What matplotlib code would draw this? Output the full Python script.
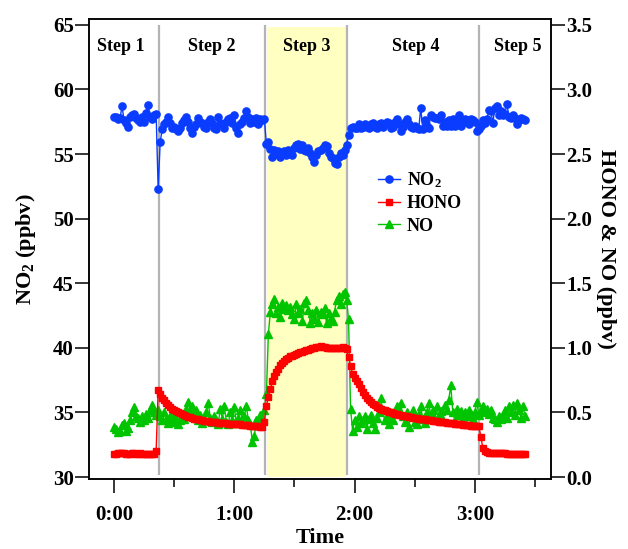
import numpy as np
import matplotlib
matplotlib.use("Agg")
import matplotlib.pyplot as plt
from matplotlib.ticker import FuncFormatter, MultipleLocator

plt.rcParams['font.family'] = ['Liberation Serif', 'DejaVu Serif']
plt.rcParams['mathtext.fontset'] = 'custom'
plt.rcParams['mathtext.rm'] = 'Liberation Serif:bold'
plt.rcParams['mathtext.it'] = 'Liberation Serif:bold'
plt.rcParams['mathtext.bf'] = 'Liberation Serif:bold'

# sampling: one point per minute from 0:00
minutes = np.arange(206)

no2 = [
    57.9, 57.9, 57.7, 57.8, 58.7, 57.6, 57.4, 57.1, 57.9, 58.0,
    58.1, 57.8, 57.6, 57.5, 57.9, 57.5, 58.2, 58.8, 57.9, 57.7,
    58.0, 58.1, 52.3, 55.9, 56.9, 57.3, 57.5, 57.9, 57.4, 57.0,
    57.1, 56.9, 56.8, 57.0, 57.4, 57.6, 57.9, 57.5, 57.0, 56.6,
    57.1, 57.3, 57.8, 57.5, 57.4, 57.1, 57.0, 57.5, 57.7, 57.4,
    57.0, 56.9, 57.9, 57.4, 57.3, 57.0, 57.5, 57.7, 57.8, 57.4,
    58.0, 57.0, 56.6, 57.3, 57.5, 57.8, 58.3, 57.9, 57.4, 57.7,
    57.5, 57.8, 57.3, 57.7, 57.6, 57.7, 55.8, 55.9, 55.4, 54.8,
    55.3, 55.0, 55.2, 54.8, 55.1, 55.2, 54.9, 55.3, 55.2, 54.9,
    55.5, 55.7, 55.8, 55.4, 55.7, 55.3, 55.2, 55.5, 55.1, 54.8,
    54.4, 54.9, 55.2, 55.3, 55.5, 55.7, 55.6, 55.1, 54.8, 54.7,
    54.3, 54.2, 54.8, 55.1, 54.9, 55.3, 55.7, 56.5, 57.0, 57.1,
    57.0, 57.0, 57.3, 57.0, 57.1, 57.3, 57.1, 57.0, 57.3, 57.4,
    57.1, 57.0, 57.3, 57.4, 57.1, 57.3, 57.5, 57.4, 57.0, 57.1,
    57.5, 57.7, 57.3, 56.8, 57.1, 57.5, 57.7, 57.3, 57.1, 57.0,
    57.2, 57.0, 56.9, 58.6, 56.9, 57.6, 57.2, 57.0, 58.0, 57.9,
    57.8, 57.8, 57.7, 58.0, 57.2, 57.5, 57.2, 57.6, 57.2, 57.7,
    57.2, 57.6, 58.0, 57.2, 57.5, 57.7, 57.6, 57.3, 57.7, 57.6,
    57.5, 56.8, 56.9, 57.2, 57.6, 57.4, 57.7, 58.4, 58.3, 57.4,
    58.6, 58.7, 58.0, 58.3, 58.0, 58.1, 58.9, 57.9, 57.8, 58.0,
    57.8, 57.3, 57.6, 57.8, 57.7, 57.6,
]

hono = [
    0.18, 0.18, 0.185, 0.19, 0.19, 0.185, 0.18, 0.18, 0.18, 0.185,
    0.185, 0.18, 0.18, 0.185, 0.18, 0.18, 0.18, 0.18, 0.18, 0.18,
    0.18, 0.20, 0.67, 0.64, 0.615, 0.595, 0.575, 0.56, 0.545, 0.53,
    0.52, 0.51, 0.50, 0.495, 0.488, 0.48, 0.473, 0.467, 0.462, 0.457,
    0.453, 0.449, 0.446, 0.443, 0.44, 0.437, 0.435, 0.433, 0.43, 0.428,
    0.426, 0.424, 0.422, 0.421, 0.42, 0.418, 0.416, 0.414, 0.413, 0.412,
    0.412, 0.41, 0.409, 0.407, 0.405, 0.404, 0.403, 0.40, 0.398, 0.397,
    0.395, 0.393, 0.392, 0.391, 0.39, 0.43, 0.55, 0.62, 0.68, 0.74,
    0.78, 0.81, 0.84, 0.865, 0.885, 0.90, 0.915, 0.925, 0.935, 0.94,
    0.945, 0.955, 0.96, 0.965, 0.97, 0.975, 0.98, 0.985, 0.99, 0.995,
    1.0, 1.005, 1.01, 1.012, 1.01, 1.005, 1.0, 0.998, 0.995, 0.995,
    0.995, 0.998, 1.0, 1.002, 1.003, 1.0, 0.99, 0.93, 0.86, 0.80,
    0.77, 0.745, 0.72, 0.69, 0.66, 0.635, 0.615, 0.595, 0.58, 0.565,
    0.555, 0.545, 0.535, 0.528, 0.522, 0.516, 0.51, 0.505, 0.50, 0.495,
    0.49, 0.486, 0.482, 0.478, 0.475, 0.472, 0.469, 0.466, 0.462, 0.46,
    0.458, 0.455, 0.453, 0.45, 0.448, 0.446, 0.444, 0.44, 0.438, 0.435,
    0.433, 0.431, 0.429, 0.427, 0.425, 0.423, 0.421, 0.419, 0.417, 0.415,
    0.413, 0.411, 0.409, 0.407, 0.405, 0.403, 0.402, 0.40, 0.399, 0.398,
    0.397, 0.396, 0.395, 0.31, 0.225, 0.20, 0.192, 0.188, 0.186, 0.185,
    0.183, 0.183, 0.185, 0.184, 0.184, 0.183, 0.182, 0.182, 0.181, 0.181,
    0.18, 0.18, 0.18, 0.179, 0.179, 0.178,
]

no = [
    0.39, 0.37, 0.35, 0.36, 0.40, 0.42, 0.36, 0.38, 0.44, 0.50,
    0.54, 0.47, 0.46, 0.43, 0.47, 0.44, 0.49, 0.46, 0.52, 0.56,
    0.50, 0.48, 0.52, 0.47, 0.44, 0.50, 0.45, 0.42, 0.47, 0.43,
    0.48, 0.45, 0.41, 0.44, 0.48, 0.45, 0.53, 0.58, 0.50, 0.55,
    0.47, 0.52, 0.44, 0.48, 0.42, 0.45, 0.50, 0.57, 0.46, 0.43,
    0.47, 0.44, 0.41, 0.53, 0.45, 0.55, 0.43, 0.41, 0.50, 0.44,
    0.54, 0.42, 0.46, 0.52, 0.43, 0.47, 0.55, 0.44, 0.41, 0.27,
    0.32, 0.44, 0.40, 0.48, 0.46, 0.52, 0.64, 1.11, 1.28, 1.34,
    1.38, 1.27, 1.32, 1.24, 1.35, 1.30, 1.33, 1.29, 1.32, 1.26,
    1.22, 1.34, 1.27, 1.30, 1.21, 1.35, 1.37, 1.29, 1.19, 1.27,
    1.22, 1.29, 1.20, 1.28, 1.26, 1.31, 1.19, 1.27, 1.23, 1.21,
    1.28, 1.37, 1.40, 1.34, 1.42, 1.43, 1.37, 1.22, 0.53, 0.36,
    0.44, 0.39, 0.47, 0.42, 0.44, 0.47, 0.37, 0.45, 0.48, 0.42,
    0.37, 0.46, 0.50, 0.61, 0.52, 0.44, 0.47, 0.41, 0.49, 0.44,
    0.50, 0.55, 0.53, 0.57, 0.47, 0.43, 0.50, 0.39, 0.48, 0.52,
    0.43, 0.41, 0.49, 0.55, 0.45, 0.42, 0.50, 0.57, 0.48, 0.52,
    0.45, 0.55, 0.47, 0.51, 0.44, 0.56, 0.52, 0.60, 0.71, 0.50,
    0.44, 0.53, 0.48, 0.51, 0.46, 0.50, 0.47, 0.52, 0.49, 0.45,
    0.50, 0.58, 0.48, 0.51, 0.55, 0.50, 0.53, 0.49, 0.52, 0.46,
    0.45, 0.43, 0.47, 0.45, 0.48, 0.52, 0.46, 0.55, 0.50, 0.56,
    0.48, 0.57, 0.52, 0.46, 0.55, 0.47,
]

step_bounds = [22.3, 75.3, 116.0, 182.2]
step_names = ["Step 1", "Step 2", "Step 3", "Step 4", "Step 5"]
step_label_x = [3.3, 48.9, 96.3, 150.5, 201.3]
highlight = (76.3, 115.6)
time_ticks = [0, 60, 120, 180]
no2_ticks = [30, 35, 40, 45, 50, 55, 60, 65]
right_ticks = [0.0, 0.5, 1.0, 1.5, 2.0, 2.5, 3.0, 3.5]

fig = plt.figure(figsize=(6.28, 5.49), dpi=100)
ax = fig.add_axes([89/628, 1-479/549, (551-89)/628, (479-19)/549])
ax2 = ax.twinx()

ylo, yhi = 29.85, 65.45
ax.set_ylim(ylo, yhi)
ax2.set_ylim((ylo-30)/10, (yhi-30)/10)
ax.set_xlim(-12.5, 218)

ax.fill_betweenx([30.0, 64.85], highlight[0], highlight[1], color='#ffffc2', zorder=0, lw=0)
ax.vlines(step_bounds, 30.15, 65.0, color='#b4b4b4', lw=1.6, zorder=1)

blue = '#0a3cff'
red = '#ff0000'
green = '#00c400'

l1, = ax.plot(minutes, no2, '-o', color=blue, ms=5.2, lw=1, zorder=3, label='NO$_2$')
l3, = ax2.plot(minutes, no, '-^', color=green, ms=5.5, lw=1, zorder=2, label='NO')
l2, = ax2.plot(minutes, hono, '-s', color=red, ms=4.5, lw=1, zorder=3, label='HONO')

for x, name in zip(step_label_x, step_names):
    ax.text(x, 63.3, name, ha='center', va='center', fontsize=13, fontweight='bold')

ax.set_xticks(time_ticks)
ax.xaxis.set_minor_locator(MultipleLocator(30))
ax.xaxis.set_major_formatter(FuncFormatter(lambda v, p: f"{int(v//60)}:{int(v%60):02d}"))
ax.set_yticks(no2_ticks)
ax2.set_yticks(right_ticks)
ax2.set_yticklabels([f"{v:.1f}" for v in right_ticks])

for a in (ax, ax2):
    for lab in a.get_xticklabels() + a.get_yticklabels():
        lab.set_fontweight('bold')
        lab.set_fontsize(15)
    for s in a.spines.values():
        s.set_linewidth(1.1)

ax.tick_params(axis='x', which='major', direction='out', length=10, width=1.1, pad=9)
ax.tick_params(axis='x', which='minor', direction='out', length=6, width=1.1)
ax.tick_params(axis='y', direction='out', length=10, width=1.1, pad=1)
ax2.tick_params(axis='y', direction='out', length=10, width=1.1, pad=1)

ax.set_xlabel('Time', fontsize=16, fontweight='bold', labelpad=2)
ax.set_ylabel('NO$_2$ (ppbv)', fontsize=16, fontweight='bold', labelpad=11)
ax2.set_ylabel('HONO & NO (ppbv)', fontsize=16, fontweight='bold', rotation=270, labelpad=17)

leg = ax2.legend(handles=[l1, l2, l3], loc='upper left', bbox_to_anchor=(362/628, 1-154/549),
                 bbox_transform=fig.transFigure, frameon=False, handlelength=1.2,
                 handletextpad=0.4, labelspacing=0.3, prop={'weight': 'bold', 'size': 13})

fig.savefig('out.png', dpi=100)
